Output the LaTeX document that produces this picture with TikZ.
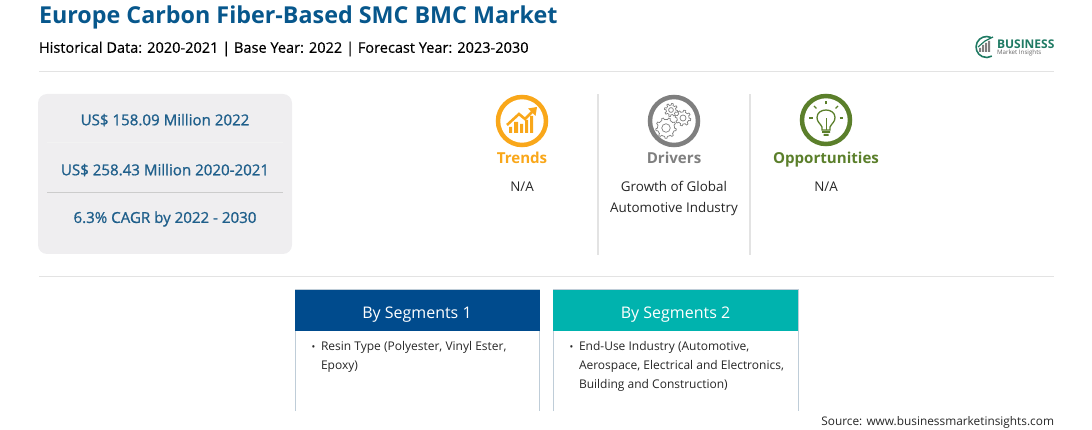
\documentclass[tikz,border=0pt]{standalone}
\usepackage{fontspec}
\setmainfont{Open Sans}
\usetikzlibrary{positioning}
\definecolor{navyblue}{HTML}{004B8D}
\definecolor{titleblue}{HTML}{07578C}
\definecolor{tealgreen}{HTML}{00B3AE}
\definecolor{statblue}{HTML}{1F5F8B}
\definecolor{panelgrey}{HTML}{EFEEF0}
\definecolor{trendorange}{HTML}{F9A71A}
\definecolor{drivergrey}{HTML}{7F7F7F}
\definecolor{oppgreen}{HTML}{5B7F2B}
\definecolor{rulegrey}{HTML}{E3E3E3}
\definecolor{boxline}{HTML}{BFCDD8}
\definecolor{logogreen}{HTML}{1F7A63}
\tikzset{
x=1pt, y=-1pt, % one unit is one pixel of the picture
every node/.style={inner sep=0pt, outer sep=0pt},
stat/.style={text=statblue, font=\fontsize{15.1}{17}\selectfont\addfontfeature{FakeBold=1}},
body/.style={text=black!85, font=\fontsize{13.4}{21}\selectfont, align=center},
seghead/.style={minimum width=245pt, minimum height=41pt, text=white, text height=20pt, text depth=4pt, font=\fontsize{16}{19}\selectfont},
segtext/.style={text=black!85, font=\fontsize{12}{19}\selectfont, align=left, anchor=north west},
ring/.style={circle, line width=4.5pt, minimum size=48pt},
icontext/.style={text height=12pt, text depth=4pt, font=\fontsize{15.1}{19}\selectfont\bfseries},
sep/.style={rulegrey, line width=1pt},
}
\newcommand{\segdot}{\makebox[9.5pt][l]{\fontsize{10}{10}\selectfont\textbullet}}
\begin{document}
\begin{tikzpicture}
  \useasboundingbox (0,0) rectangle (1092,430);

  % title
  \node[anchor=west, text=titleblue, font=\fontsize{23.3}{26}\selectfont\bfseries] (title) at (39,17) {Europe Carbon Fiber-Based SMC BMC Market};
  \node[anchor=west, text=black, font=\fontsize{14.55}{17}\selectfont\addfontfeature{FakeBold=0.5}] (sub) at (39,49) {Historical Data: 2020-2021 | Base Year: 2022 | Forecast Year: 2023-2030};

  % logo
  \draw[logogreen, line width=1.6pt] (991,37.5) arc[start angle=-65, end angle=-300, radius=10.5];
  \fill[drivergrey] (979,52) rectangle (981,48) (982,52) rectangle (984,45) (985,52) rectangle (987,43) (988,52) rectangle (990,41);
  \draw[logogreen, line width=1.2pt] (978,47) -- (985,41) -- (993,37);
  \node[anchor=west, text=logogreen, font=\fontsize{12}{13}\selectfont\bfseries] (logotop) at (997,44) {BUSINESS};
  \node[anchor=west, text=black!60, font=\fontsize{6.2}{7}\selectfont] (logobot) at (997,53) {Market Insights};

  \coordinate (r1a) at (39,71.5);
  \coordinate (r1b) at (1054,71.5);
  \coordinate (r2a) at (39,276.5);
  \coordinate (r2b) at (1054,276.5);
  \draw[sep] (r1a) -- (r1b);
  \draw[sep] (r2a) -- (r2b);

  % stats panel
  \node[fill=panelgrey, rounded corners=9pt, minimum width=254pt, minimum height=160pt] (panel) at (165,174) {};
  \node[stat] (s1) at (165,120) {US\$ 158.09 Million 2022};
  \node[stat] (s2) at (165,170) {US\$ 258.43 Million 2020-2021};
  \node[stat] (s3) at (165,219) {6.3\% CAGR by 2022 - 2030};
  \coordinate (p1a) at (47,143);
  \coordinate (p1b) at (283,143);
  \coordinate (p2a) at (47,192);
  \coordinate (p2b) at (283,192);
  \draw[black!5, line width=1pt] (p1a) -- (p1b);
  \draw[black!20, line width=.8pt] (p2a) -- (p2b);

  % column rules
  \coordinate (c1a) at (598,94);
  \coordinate (c1b) at (598,255);
  \coordinate (c2a) at (750,94);
  \coordinate (c2b) at (750,255);
  \draw[sep, line width=1.5pt] (c1a) -- (c1b);
  \draw[sep, line width=1.5pt] (c2a) -- (c2b);

  % trends
  \node[ring, draw=trendorange] (trend) at (522,121) {};
  \fill[trendorange] (509,133) rectangle (512,127) (514,133) rectangle (518,122) (520,133) rectangle (523,124) (525,133) rectangle (528,120) (530,133) rectangle (533,116);
  \draw[trendorange, line width=2.6pt] (507,125) -- (519,114) -- (525,119) -- (533,111);
  \fill[trendorange] (537,107) -- (528,108.5) -- (535.5,116) -- cycle;
  \node[icontext, text=trendorange, below=7pt of trend] (trendlab) {Trends};
  \node[body, below=14pt of trendlab] (trendtxt) {N/A};

  % drivers
  \node[ring, draw=drivergrey] (driver) at (674,121) {};
  \foreach \cx/\cy/\rr/\nn in {666/128/8.5/9, 683/118/6/8, 671/110/4.8/8}{
    \draw[drivergrey, line width=.7pt, fill=white] plot[domain=0:360, samples=73, variable=\t] ({\cx+(\rr+1.8*(sin(\nn*\t)>0))*cos(\t)}, {\cy+(\rr+1.8*(sin(\nn*\t)>0))*sin(\t)}) -- cycle;
    \draw[drivergrey, line width=.7pt] (\cx,\cy) circle[radius=\rr*.5];
  }
  \node[icontext, text=drivergrey, below=7pt of driver] (driverlab) {Drivers};
  \node[body, below=13pt of driverlab] (drivertxt) {Growth of Global\\Automotive Industry};

  % opportunities
  \node[ring, draw=oppgreen] (opp) at (826,120) {};
  \draw[oppgreen, line width=1.3pt] (822,130) -- (822,127) .. controls (820,123) and (817,122) .. (817,117.5) .. controls (817,107.5) and (835,107.5) .. (835,117.5) .. controls (835,122) and (832,123) .. (830,127) -- (830,130) -- cycle;
  \draw[oppgreen, line width=1pt] (826,130) -- (826,118);
  \fill[oppgreen] (822,131) rectangle (830,133) (823.5,134) rectangle (828.5,136);
  \foreach \aa in {180,225,270,315,360}
    \draw[oppgreen, line width=1.2pt] (826,118)++(\aa:13.5) -- ++(\aa:3.5);
  \node[icontext, text=oppgreen, below=8pt of opp] (opplab) {Opportunities};
  \node[body, below=14pt of opplab] (opptxt) {N/A};

  % segments
  \coordinate (b1a) at (295,411);
  \coordinate (b1b) at (295,290);
  \coordinate (b1c) at (539,290);
  \coordinate (b1d) at (539,411);
  \coordinate (b2a) at (553,411);
  \coordinate (b2b) at (553,290);
  \coordinate (b2c) at (798,290);
  \coordinate (b2d) at (798,411);
  \draw[boxline, line width=1pt] (b1a) -- (b1b) -- (b1c) -- (b1d);
  \draw[boxline, line width=1pt] (b2a) -- (b2b) -- (b2c) -- (b2d);
  \node[seghead, fill=navyblue] (seg1) at (417,310.5) {By Segments 1};
  \node[seghead, fill=tealgreen] (seg2) at (675.5,310.5) {By Segments 2};
  \node[segtext] (seg1txt) at (311.5,341) {\segdot Resin Type (Polyester, Vinyl Ester,\\\hspace{9.5pt}Epoxy)};
  \node[segtext] (seg2txt) at (569.5,341) {\segdot End-Use Industry (Automotive,\\\hspace{9.5pt}Aerospace, Electrical and Electronics,\\\hspace{9.5pt}Building and Construction)};

  \node[anchor=east, text=black!85, font=\fontsize{11.85}{14}\selectfont] (source) at (1054,422) {Source: www.businessmarketinsights.com};
\end{tikzpicture}
\end{document}
